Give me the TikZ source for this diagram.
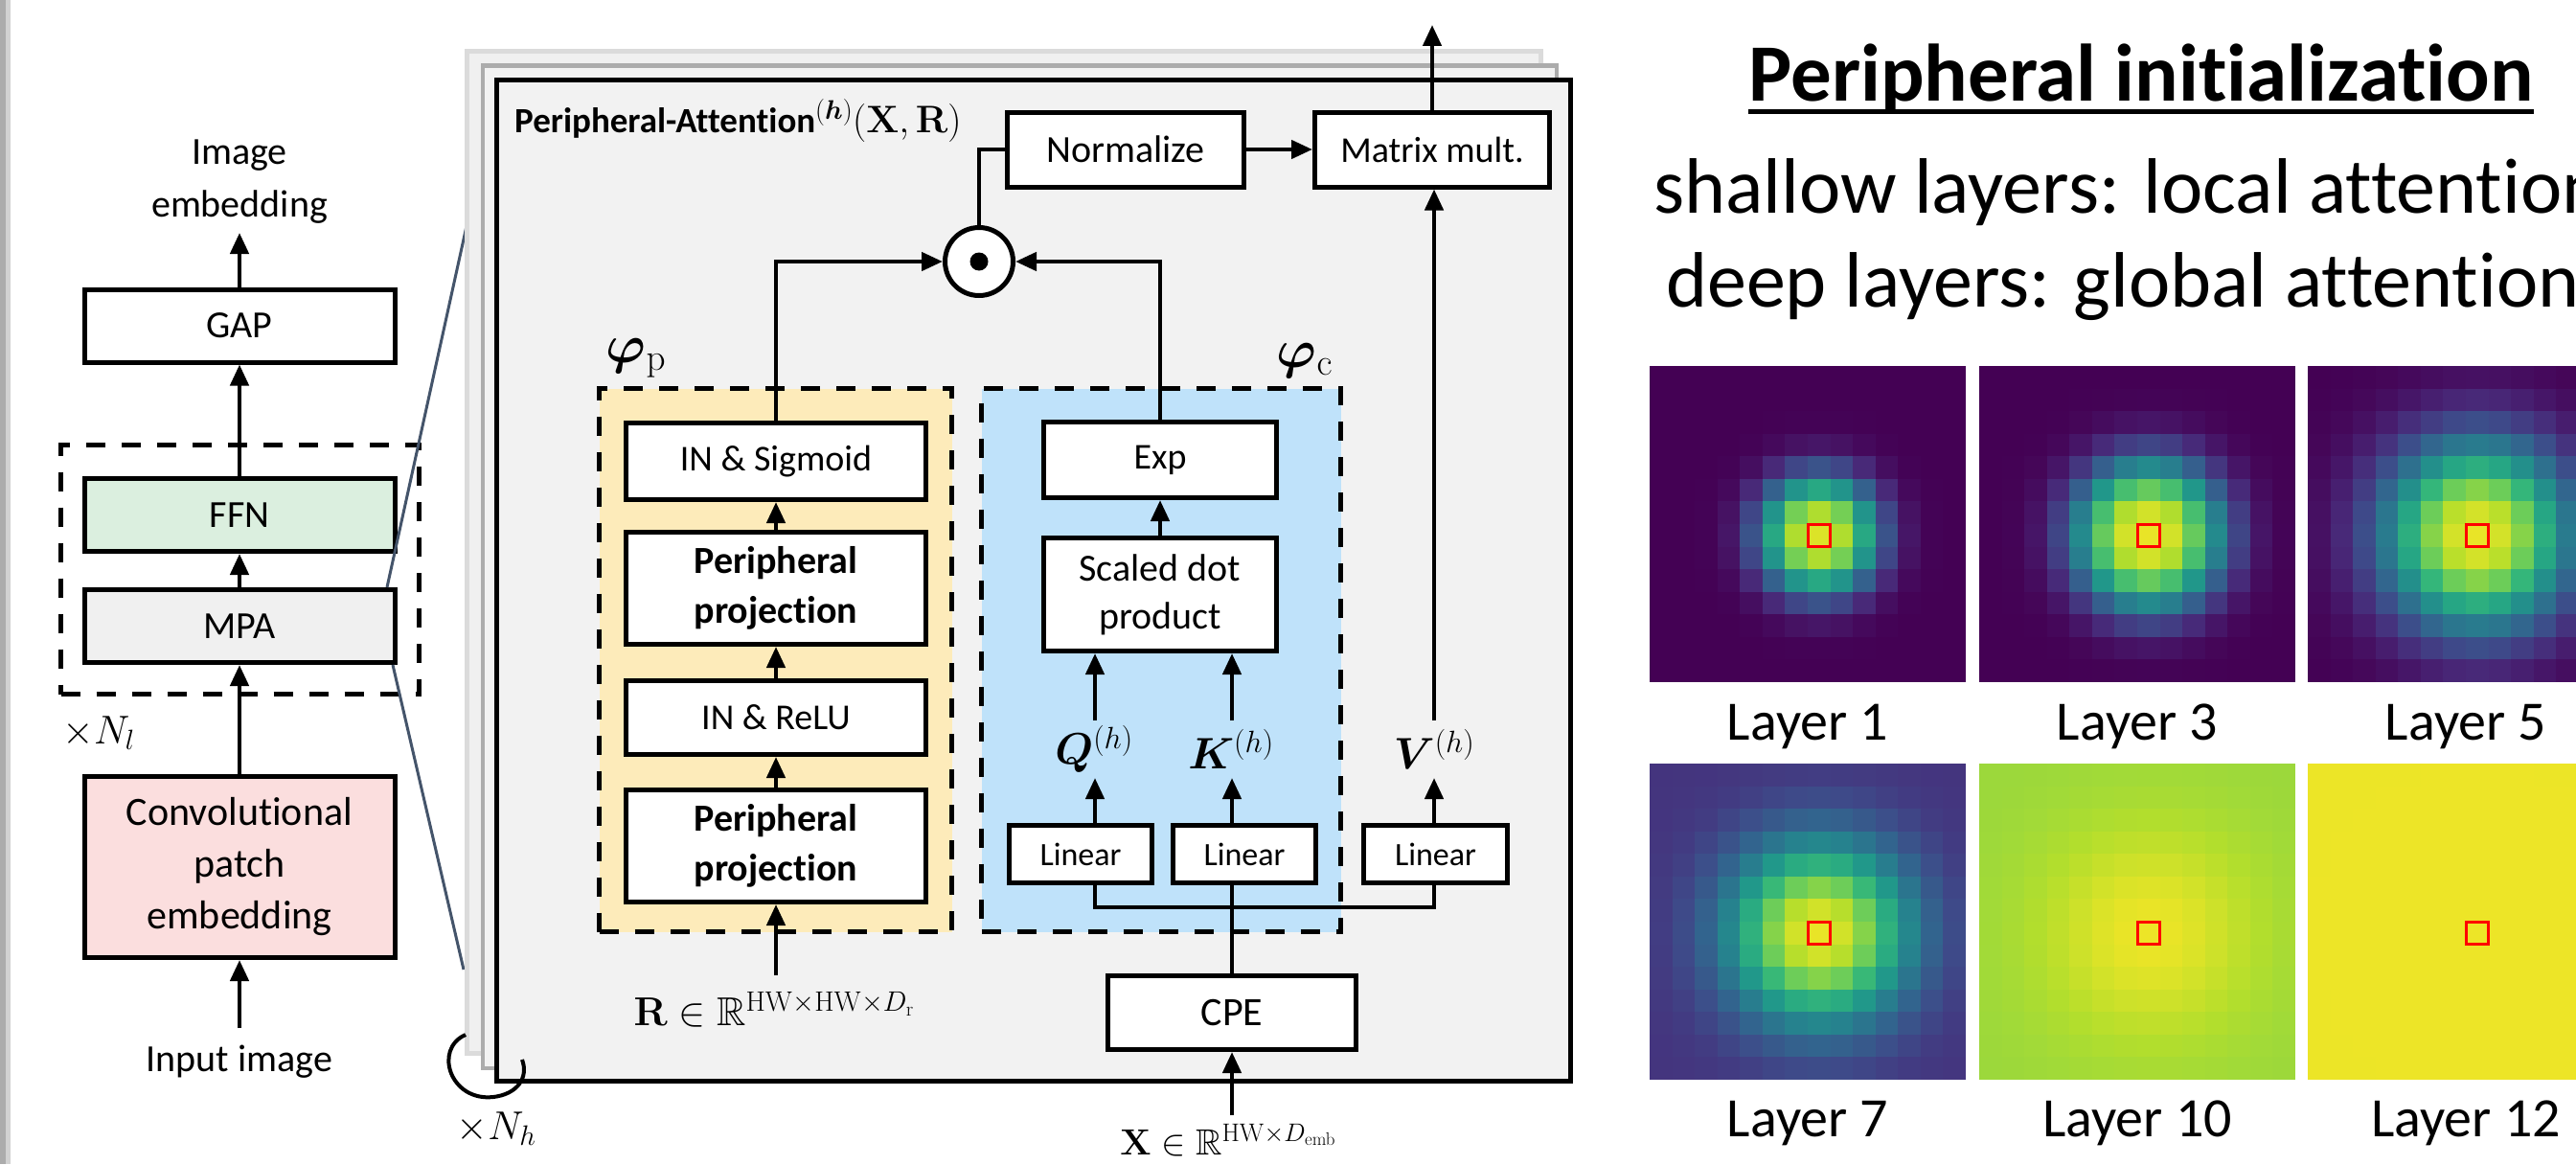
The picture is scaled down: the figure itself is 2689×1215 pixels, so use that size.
\RequirePackage{fix-cm}
\documentclass[tikz,border=0pt]{standalone}
\usepackage{amsmath,amssymb,bm}
\usepackage[no-math]{fontspec}
\setmainfont{Carlito}[Ligatures=NoCommon]
\usetikzlibrary{arrows.meta,calc}
\definecolor{ffnc}{HTML}{DBEFDF}
\definecolor{mpac}{HTML}{F0F0F0}
\definecolor{convc}{HTML}{FBDEDE}
\definecolor{framec}{HTML}{F2F2F2}
\definecolor{yelc}{HTML}{FDEBBA}
\definecolor{bluc}{HTML}{BFE2FA}
\definecolor{slate}{HTML}{44546A}
\definecolor{vir0}{HTML}{440154}
\definecolor{vir1}{HTML}{482878}
\definecolor{vir2}{HTML}{3E4A89}
\definecolor{vir3}{HTML}{31688E}
\definecolor{vir4}{HTML}{26828E}
\definecolor{vir5}{HTML}{1F9E89}
\definecolor{vir6}{HTML}{35B779}
\definecolor{vir7}{HTML}{6DCD59}
\definecolor{vir8}{HTML}{B4DE2C}
\definecolor{vir9}{HTML}{FDE725}
\tikzset{
  box/.style={draw, line width=5pt, fill=white, inner sep=0pt, align=center, font=\fontsize{40}{50}\selectfont},
  arr/.style={line width=4.5pt, -{Triangle[length=22pt,width=19pt]}},
  conn/.style={line width=4.5pt},
  dashbox/.style={draw, line width=5pt, dash pattern=on 20pt off 17pt, inner sep=0pt},
  lbl/.style={inner sep=0pt, align=center, font=\fontsize{40}{55}\selectfont},
  layerlbl/.style={inner sep=0pt, anchor=base, font=\fontsize{58}{60}\selectfont},
}
\newcommand\hmap[6]{%
  \foreach \hmi in {0,...,13}{%
    \foreach \hmj in {0,...,13}{%
      \pgfmathsetmacro\hmd{sqrt((\hmi-7)*(\hmi-7)+(\hmj-7)*(\hmj-7))+0.001}%
      \pgfmathsetmacro\hmv{#6+(#3-#6)*exp(-((\hmd/#4)^#5))}%
      \pgfmathsetmacro\hmx{min(\hmv*9,8.999)}%
      \pgfmathtruncatemacro\hml{floor(\hmx)}%
      \pgfmathtruncatemacro\hmh{\hml+1}%
      \pgfmathsetmacro\hmp{(\hmx-\hml)*100}%
      \colorlet{hmc}{vir\hmh!\hmp!vir\hml}%
      \fill[hmc] ({#1+\hmi*23.5714},{#2+\hmj*23.5714}) rectangle ++(24,24);%
    }}%
  \draw[red, line width=3pt] ({#1+7*23.5714},{#2+7*23.5714}) rectangle ++(23.5714,23.5714);%
}
\begin{document}
\begin{tikzpicture}[x=1pt,y=-1pt]
\clip (0,0) rectangle (2689,1215);
\fill[white] (0,0) rectangle (2689,1215);
\fill[gray!65] (0,0) rectangle (6,1215);
\fill[gray!35] (6,0) rectangle (11,1215);

% ---------- left column ----------
\node[lbl] (imgemb) at (250,190) {Image\\embedding};
\node[box, minimum width=324pt, minimum height=76pt] (gap) at (250,340) {GAP};
\coordinate (embtip) at (250,243);
\draw[arr] (gap.north) -- (embtip);
\node[dashbox, minimum width=374pt, minimum height=260pt] (rep) at (250.5,594.5) {};
\node[box, fill=ffnc, minimum width=324pt, minimum height=76pt] (ffn) at (250,537.5) {FFN};
\node[box, fill=mpac, minimum width=324pt, minimum height=76pt] (mpa) at (250,653.5) {MPA};
\node[box, fill=convc, minimum width=324pt, minimum height=189pt, font=\fontsize{42}{54}\selectfont] (conv) at (250,905) {Convolutional\\patch\\embedding};
\draw[arr] (ffn.north) -- (gap.south);
\draw[arr] (mpa.north) -- (ffn.south);
\draw[arr] (conv.north) -- (mpa.south);
\node[lbl, font=\fontsize{42}{50}\selectfont] (nl) at (103,765) {$\times N_l$};
\coordinate (inp) at (250,1073);
\draw[arr] (inp) -- (conv.south);
\node[lbl] (inimg) at (250,1108) {Input image};

% zoom lines
\coordinate (zl1a) at (404,613);
\coordinate (zl1b) at (487,236);
\coordinate (zl2a) at (410,694);
\coordinate (zl2b) at (484,1012);
\draw[slate, line width=3pt] (zl1a) -- (zl1b);
\draw[slate, line width=3pt] (zl2a) -- (zl2b);

% ---------- stacked frames ----------
\node[draw=gray!28, line width=5pt, fill=gray!12, minimum width=1121pt, minimum height=1046pt, inner sep=0pt] (back) at (1048,576.5) {};
\node[draw=gray!65, line width=4pt, fill=gray!10, minimum width=1121pt, minimum height=1046pt, inner sep=0pt] (mid) at (1064,591.5) {};
\node[draw, line width=5pt, fill=framec, minimum width=1121pt, minimum height=1045pt, inner sep=0pt] (front) at (1079,606) {};

\node[anchor=west, inner sep=0pt, font=\fontsize{37}{44}\selectfont\bfseries] (title) at (537,126) {Peripheral-Attention\fontsize{40}{44}\selectfont$^{(\bm{h})}(\mathbf{X},\mathbf{R})$};

\node[box, minimum width=247pt, minimum height=78pt] (norm) at (1175,156) {Normalize};
\node[box, minimum width=245pt, minimum height=78pt, font=\fontsize{38}{46}\selectfont] (matmul) at (1495,156) {Matrix mult.};
\draw[arr] (norm.east) -- (matmul.west);
\coordinate (outtip) at (1495,26);
\draw[arr] (matmul.north) -- (outtip);

\node[circle, draw, line width=5pt, fill=white, minimum size=71pt, inner sep=0pt] (odot) at (1022,273) {};
\node[circle, fill=black, minimum size=19pt, inner sep=0pt] (dot) at (odot.center) {};

% dashed groups
\node[dashbox, fill=yelc, minimum width=368pt, minimum height=567pt] (phip) at (809.5,689) {};
\node[dashbox, fill=bluc, minimum width=375pt, minimum height=567pt] (phic) at (1212,689) {};
\node[lbl, font=\fontsize{56}{60}\selectfont] (phiplbl) at (664,374) {$\bm{\varphi}_{\mathrm{p}}$};
\node[lbl, font=\fontsize{56}{60}\selectfont] (phiclbl) at (1362,376) {$\bm{\varphi}_{\mathrm{c}}$};

% yellow branch
\node[box, minimum width=313pt, minimum height=80pt, font=\fontsize{38}{48}\selectfont] (ins) at (810,481.5) {IN \& Sigmoid};
\node[box, minimum width=313pt, minimum height=117pt, font=\fontsize{40}{52}\selectfont\bfseries] (pp1) at (810,614) {Peripheral\\projection};
\node[box, minimum width=313pt, minimum height=77pt, font=\fontsize{38}{48}\selectfont] (inr) at (810,749) {IN \& ReLU};
\node[box, minimum width=313pt, minimum height=117pt, font=\fontsize{40}{52}\selectfont\bfseries] (pp2) at (810,883) {Peripheral\\projection};
\draw[arr] (pp1.north) -- (ins.south);
\draw[arr] (inr.north) -- (pp1.south);
\draw[arr] (pp2.north) -- (inr.south);
\coordinate (rtail) at (810,1018);
\draw[arr] (rtail) -- (pp2.south);
\node[lbl, font=\fontsize{42}{50}\selectfont] (rlbl) at (808,1054) {$\mathbf{R}\in\mathbb{R}^{\mathrm{HW}\times\mathrm{HW}\times D_{\mathrm{r}}}$};

% blue branch
\node[box, minimum width=243pt, minimum height=79pt, font=\fontsize{38}{48}\selectfont] (exp) at (1211,480) {Exp};
\node[box, minimum width=243pt, minimum height=118pt] (sdp) at (1211,620.5) {Scaled dot\\product};
\draw[arr] (sdp.north) -- (exp.south);

\node[lbl, font=\fontsize{46}{50}\selectfont] (qlbl) at (1142,782) {$\bm{Q}^{(h)}$};
\node[lbl, font=\fontsize{46}{50}\selectfont] (klbl) at (1285,782) {$\bm{K}^{(h)}$};
\node[lbl, font=\fontsize{46}{50}\selectfont] (vlbl) at (1497,782) {$\bm{V}^{(h)}$};

\node[box, minimum width=149pt, minimum height=60pt, font=\fontsize{34}{40}\selectfont] (ql) at (1128,891.5) {Linear};
\node[box, minimum width=149pt, minimum height=60pt, font=\fontsize{34}{40}\selectfont] (kl) at (1299,891.5) {Linear};
\node[box, minimum width=150pt, minimum height=60pt, font=\fontsize{34}{40}\selectfont] (vl) at (1498.5,891.5) {Linear};

\coordinate (qtop) at (1143,752);
\coordinate (qbot) at (1143,812);
\coordinate (ktop) at (1286,752);
\coordinate (kbot) at (1286,812);
\coordinate (vtop) at (1497,752);
\coordinate (vbot) at (1497,812);
\coordinate (split) at (1286,947);

\draw[arr] (qtop) -- (qtop |- sdp.south);
\draw[arr] (ktop) -- (ktop |- sdp.south);
\draw[arr] (vtop) -- (vtop |- matmul.south);
\draw[arr] (qbot |- ql.north) -- (qbot);
\draw[arr] (kbot |- kl.north) -- (kbot);
\draw[arr] (vbot |- vl.north) -- (vbot);

\node[box, minimum width=259pt, minimum height=77pt, font=\fontsize{42}{50}\selectfont] (cpe) at (1286,1057) {CPE};
\draw[conn] (qbot |- ql.south) -- (qbot |- split) -- (vbot |- split) -- (vbot |- vl.south);
\draw[conn] (cpe.north) -- (cpe.north |- kl.south);
\coordinate (xtail) at (1286,1164);
\draw[arr] (xtail) -- (cpe.south);
\node[inner sep=0pt, anchor=base, font=\fontsize{38}{50}\selectfont] (xlbl) at (1282,1205) {$\mathbf{X}\in\mathbb{R}^{\mathrm{HW}\times D_{\mathrm{emb}}}$};

% product node connections
\draw[conn] (odot.north) |- (norm.west);
\draw[arr] (ins.north) |- (odot.west);
\draw[arr] (exp.north) |- (odot.east);

% x N_h loop
\coordinate (lpa) at (486,1080);
\coordinate (lpb) at (515,1145);
\coordinate (lpc) at (545,1106);
\draw[line width=4pt] (lpa) .. controls (452,1095) and (470,1150) .. (lpb) .. controls (540,1142) and (552,1125) .. (lpc);
\node[lbl, font=\fontsize{42}{50}\selectfont] (nh) at (518,1178) {$\times N_h$};

% ---------- right panel ----------
\node[anchor=base, inner sep=0pt, font=\fontsize{85}{90}\selectfont\bfseries] (pinit) at (2235,105) {Peripheral initialization};
\draw[line width=5pt] ([yshift=-11pt]pinit.base west) -- ([yshift=-11pt]pinit.base east);
\node[anchor=base west, inner sep=0pt, font=\fontsize{82}{90}\selectfont] (shal) at (1726,222) {shallow layers: local attention};
\node[anchor=base west, inner sep=0pt, font=\fontsize{82}{90}\selectfont] (deep) at (1739,320) {deep layers: global attention};

\hmap{1722}{382}{0.95}{2.7}{2.6}{0}
\hmap{2066}{382}{0.97}{3.4}{2.7}{0}
\hmap{2409}{382}{0.97}{4.3}{2.3}{0}
\hmap{1722}{797}{0.97}{4.07}{2.2}{0.15}
\hmap{2066}{797}{0.975}{4.5}{2}{0.85}
\hmap{2409}{797}{0.975}{50}{2}{0.97}

\node[layerlbl] (l1) at (1887,772) {Layer 1};
\node[layerlbl] (l3) at (2231,772) {Layer 3};
\node[layerlbl] (l5) at (2574,772) {Layer 5};
\node[layerlbl] (l7) at (1887,1186) {Layer 7};
\node[layerlbl] (l10) at (2231,1186) {Layer 10};
\node[layerlbl] (l12) at (2574,1186) {Layer 12};
\end{tikzpicture}
\end{document}
